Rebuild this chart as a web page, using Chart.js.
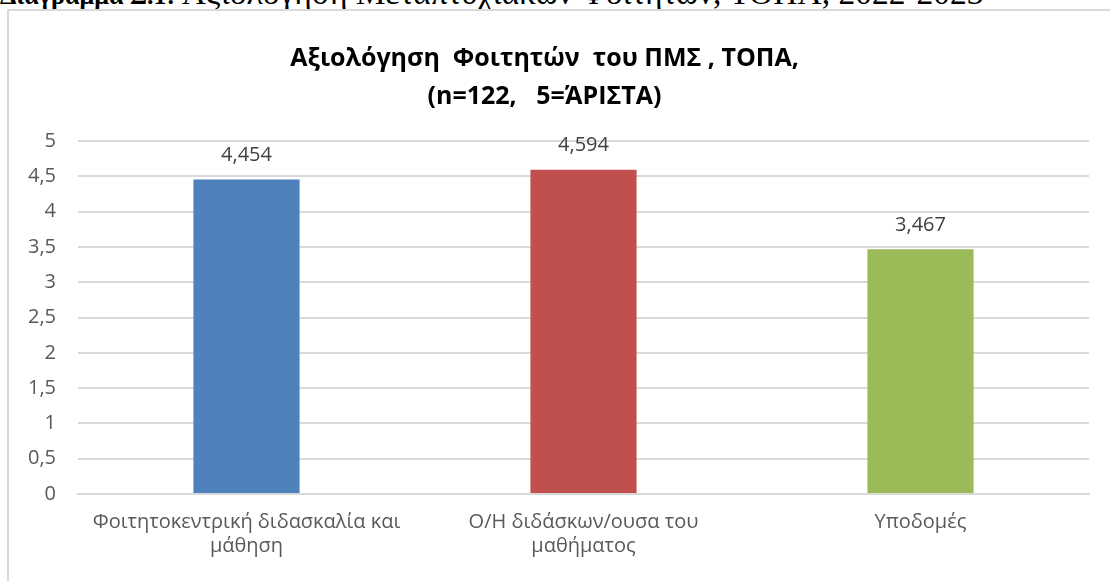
<!DOCTYPE html>
<html>
<head>
<meta charset="utf-8">
<script src="https://cdn.jsdelivr.net/npm/chart.js@4/dist/chart.umd.min.js"></script>
<style>
  html, body { margin: 0; padding: 0; background: #fff; width: 1110px; height: 581px; overflow: hidden; }
  #caption { position: absolute; left: 0; top: -24px; font-family: "Liberation Serif", serif; font-size: 33.5px; line-height: 33.5px; color: #000; white-space: nowrap; }
  #caption b { font-size: 26px; }
  #frame { position: absolute; left: 7px; top: 9px; width: 1200px; height: 700px; border-left: 2px solid #d9d9d9; border-top: 2px solid #d9d9d9; }
  #wrap { position: absolute; left: 0; top: 0; width: 1110px; height: 581px; }
</style>
</head>
<body>
<div id="caption"><b>Διάγραμμα Σ.1:</b> Αξιολόγηση Μεταπτυχιακών Φοιτητών, ΤΟΠΑ, 2022-2023</div>
<div id="frame"></div>
<div id="wrap"><canvas id="c" width="1110" height="581"></canvas></div>
<script>
const categories = [
  ["Φοιτητοκεντρική διδασκαλία και", "μάθηση"],
  ["Ο/Η διδάσκων/ουσα του", "μαθήματος"],
  ["Υποδομές"]
];
const values = [4.454, 4.594, 3.467];
const barColors = ["#4F81BD", "#C0504D", "#9BBB59"];
const titleLines = ["Αξιολόγηση  Φοιτητών  του ΠΜΣ , ΤΟΠΑ,", "(n=122,   5=ΆΡΙΣΤΑ)"];
const yTicks = [0, 0.5, 1, 1.5, 2, 2.5, 3, 3.5, 4, 4.5, 5];

const FONT = "'Open Sans', 'Noto Sans', sans-serif";
const fmt = v => String(v).replace('.', ',');

const valueLabels = {
  id: 'valueLabels',
  afterDatasetsDraw(chart) {
    const ctx = chart.ctx;
    const meta = chart.getDatasetMeta(0);
    ctx.save();
    ctx.font = "20px " + FONT;
    ctx.fillStyle = "#404040";
    ctx.textAlign = "center";
    ctx.textBaseline = "middle";
    meta.data.forEach((bar, i) => {
      ctx.fillText(fmt(values[i]), bar.x, bar.y - 24);
    });
    ctx.restore();
  }
};

new Chart(document.getElementById('c'), {
  type: 'bar',
  data: {
    labels: categories,
    datasets: [{
      data: values,
      backgroundColor: barColors,
      borderWidth: 0,
      categoryPercentage: 1,
      barPercentage: 0.315
    }]
  },
  options: {
    responsive: false,
    animation: false,
    devicePixelRatio: 1,
    layout: { padding: { left: 0, right: 21, top: 0, bottom: 0 } },
    plugins: {
      legend: { display: false },
      tooltip: { enabled: false },
      title: {
        display: true,
        text: titleLines,
        color: "#000",
        font: { family: FONT, size: 25, weight: 'bold', lineHeight: 1.52 },
        padding: { top: 40, bottom: 25 }
      }
    },
    scales: {
      x: {
        grid: { display: false, drawTicks: false },
        border: { display: true, color: "#d9d9d9", width: 2 },
        ticks: { color: "#595959", font: { family: FONT, size: 20, lineHeight: 1.2 }, padding: 16, maxRotation: 0, autoSkip: false },
        afterFit(scale) { scale.height = 87; }
      },
      y: {
        min: 0, max: 5,
        afterBuildTicks(scale) { scale.ticks = yTicks.map(v => ({ value: v })); },
        grid: { color: "#d9d9d9", lineWidth: 2, drawTicks: false },
        border: { display: false },
        ticks: { color: "#595959", font: { family: FONT, size: 20 }, padding: 22, callback: v => fmt(v) },
        afterFit(scale) { scale.width = 78; }
      }
    }
  },
  plugins: [valueLabels]
});
</script>
</body>
</html>
